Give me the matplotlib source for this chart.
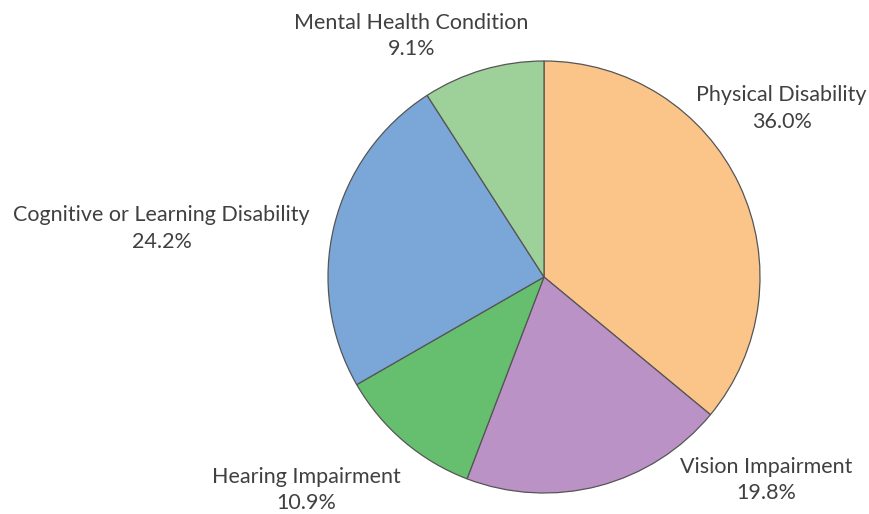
import matplotlib
matplotlib.use('Agg')
from matplotlib import pyplot as plt

# slice data, clockwise from 12 o'clock
categories = ['Physical Disability', 'Vision Impairment', 'Hearing Impairment',
              'Cognitive or Learning Disability', 'Mental Health Condition']
shares = [36.0, 19.8, 10.9, 24.2, 9.1]
colors = ['#fbc58a', '#bb92c5', '#66bf6e', '#7ba6d8', '#9ed09a']

# label centres, in units of the pie radius
label_pos = [(1.10, 0.78), (1.03, -0.94), (-1.10, -0.985),
             (-1.77, 0.225), (-0.615, 1.115)]

plt.rcParams['font.family'] = ['Lato', 'DejaVu Sans']

fig = plt.figure(figsize=(8.69, 5.14), dpi=100)
ax = fig.add_axes([0, 0, 1, 1])

ax.pie(shares, colors=colors, startangle=90, counterclock=False,
       radius=1, center=(0, 0),
       wedgeprops=dict(edgecolor='#555555', linewidth=0.9))

for name, val, (x, y) in zip(categories, shares, label_pos):
    ax.text(x, y, '%s\n%.1f%%' % (name, val), ha='center', va='center',
            fontsize=15.5, color='#404040', linespacing=1.4)

# pixel scale: radius = 216 px, centre at (544, 277) from top-left
ax.set_xlim(-544 / 216, (869 - 544) / 216)
ax.set_ylim(-(514 - 277) / 216, 277 / 216)
ax.set_aspect('equal')
ax.axis('off')

fig.savefig('out.png', dpi=100)
